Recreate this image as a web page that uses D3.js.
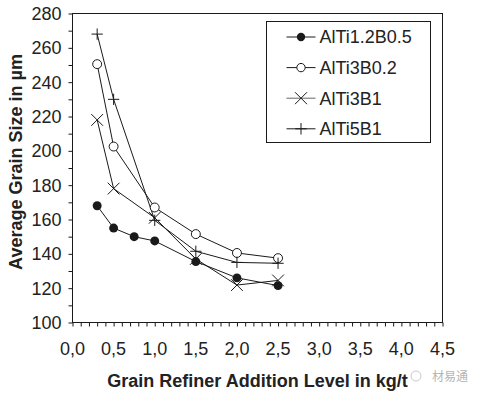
<!DOCTYPE html>
<html>
<head>
<meta charset="utf-8">
<script src="https://cdn.jsdelivr.net/npm/d3@7"></script>
<style>
  body { margin: 0; background: #fff; }
  svg { font-family: "Liberation Sans", Arial, sans-serif; }
</style>
</head>
<body>
<div id="chart"></div>
<script>
var svgWidth = 479;
var svgHeight = 397;

var margin = { top: 13.5, right: 36.5, bottom: 74.5, left: 72.5 };
var width = svgWidth - margin.left - margin.right;
var height = svgHeight - margin.top - margin.bottom;

// data
var seriesNames = ["AlTi1.2B0.5", "AlTi3B0.2", "AlTi3B1", "AlTi5B1"];
var markerTypes = ["filled", "open", "cross", "plus"];

var xLevels1 = [0.3, 0.5, 0.75, 1.0, 1.5, 2.0, 2.5];
var xLevels = [0.3, 0.5, 1.0, 1.5, 2.0, 2.5];

var alTi12B05 = [168, 155, 150, 147.5, 135.5, 126, 121.5];
var alTi3B02 = [250.5, 202.5, 167, 151.5, 140.5, 137.5];
var alTi3B1 = [218, 178, 161, 137, 121.8, 124.5];
var alTi5B1 = [268, 230, 159.5, 141.5, 135, 134.5];

var xTickLabels = ["0,0", "0,5", "1,0", "1,5", "2,0", "2,5", "3,0", "3,5", "4,0", "4,5"];
var yTickValues = [100, 120, 140, 160, 180, 200, 220, 240, 260, 280];

var seriesData = [
  xLevels1.map((x, i) => ({ x: x, y: alTi12B05[i] })),
  xLevels.map((x, i) => ({ x: x, y: alTi3B02[i] })),
  xLevels.map((x, i) => ({ x: x, y: alTi3B1[i] })),
  xLevels.map((x, i) => ({ x: x, y: alTi5B1[i] }))
];

var ink = "#1a1a1a";

var svg = d3.select("#chart")
  .append("svg")
  .attr("width", svgWidth)
  .attr("height", svgHeight);

var chartGroup = svg.append("g")
  .attr("transform", `translate(${margin.left}, ${margin.top})`);

var xScale = d3.scaleLinear().domain([0, 4.5]).range([0, width]);
var yScale = d3.scaleLinear().domain([100, 280]).range([height, 0]);

// frame
chartGroup.append("rect")
  .attr("width", width)
  .attr("height", height)
  .attr("fill", "none")
  .attr("stroke", ink)
  .attr("stroke-width", 1);

// x axis: small ticks every 0.1, labels every 0.5
var bottomAxis = d3.axisBottom(xScale)
  .tickValues(d3.range(0, 46).map(d => d / 10))
  .tickSize(4)
  .tickFormat("");

chartGroup.append("g")
  .attr("transform", `translate(0, ${height})`)
  .call(bottomAxis)
  .call(g => g.select(".domain").remove())
  .selectAll("line").attr("stroke", ink);

chartGroup.append("g")
  .selectAll("text")
  .data(xTickLabels)
  .enter()
  .append("text")
  .attr("x", (d, i) => xScale(i * 0.5))
  .attr("y", height + 32)
  .attr("text-anchor", "middle")
  .attr("font-size", "18px")
  .attr("fill", "#222")
  .text(d => d);

// y axis: ticks every 10, labels every 20
var leftAxis = d3.axisLeft(yScale)
  .tickValues(d3.range(100, 281, 10))
  .tickSize(4)
  .tickFormat("");

chartGroup.append("g")
  .call(leftAxis)
  .call(g => g.select(".domain").remove())
  .selectAll("line").attr("stroke", ink);

chartGroup.append("g")
  .selectAll("text")
  .data(yTickValues)
  .enter()
  .append("text")
  .attr("x", -11)
  .attr("y", d => yScale(d))
  .attr("dy", "0.36em")
  .attr("text-anchor", "end")
  .attr("font-size", "18px")
  .attr("fill", "#222")
  .text(d => d);

// axis titles
chartGroup.append("text")
  .attr("x", width / 2)
  .attr("y", height + 64)
  .attr("text-anchor", "middle")
  .attr("font-size", "18px")
  .attr("font-weight", "bold")
  .attr("fill", "#222")
  .text("Grain Refiner Addition Level in kg/t");

chartGroup.append("text")
  .attr("transform", "rotate(-90)")
  .attr("x", -(height / 2) + 6)
  .attr("y", -51)
  .attr("text-anchor", "middle")
  .attr("font-size", "18px")
  .attr("font-weight", "bold")
  .attr("fill", "#222")
  .text("Average Grain Size in \u00b5m");

// marker drawing
function drawMarker(g, type, size) {
  if (type === "filled") {
    g.append("circle").attr("r", size * 0.95).attr("fill", ink);
  } else if (type === "open") {
    g.append("circle").attr("r", size * 0.95).attr("fill", "#fff")
      .attr("stroke", ink).attr("stroke-width", 1);
  } else if (type === "cross") {
    var s = size * 1.25;
    g.append("path").attr("d", `M${-s},${-s}L${s},${s}M${-s},${s}L${s},${-s}`)
      .attr("stroke", ink).attr("stroke-width", 1);
  } else {
    var p = size * 1.2;
    g.append("path").attr("d", `M${-p},0L${p},0M0,${-p}L0,${p}`)
      .attr("stroke", ink).attr("stroke-width", 1);
  }
}

var line = d3.line()
  .x(d => xScale(d.x))
  .y(d => yScale(d.y));

// lines first, then markers
seriesData.forEach(function(data) {
  chartGroup.append("path")
    .datum(data)
    .attr("d", line)
    .attr("fill", "none")
    .attr("stroke", ink)
    .attr("stroke-width", 1);
});

seriesData.forEach(function(data, k) {
  chartGroup.append("g")
    .selectAll("g")
    .data(data)
    .enter()
    .append("g")
    .attr("transform", d => `translate(${xScale(d.x)}, ${yScale(d.y)})`)
    .each(function() { drawMarker(d3.select(this), markerTypes[k], 4.7); });
});

// legend
var legend = svg.append("g")
  .attr("transform", "translate(266.5, 21.5)");

legend.append("rect")
  .attr("width", 164)
  .attr("height", 121)
  .attr("fill", "#fff")
  .attr("stroke", ink)
  .attr("stroke-width", 1);

var legendItems = legend.selectAll(".item")
  .data(seriesNames)
  .enter()
  .append("g")
  .attr("class", "item")
  .attr("transform", (d, i) => `translate(0, ${15.5 + i * 30.6})`);

legendItems.append("line")
  .attr("x1", 20)
  .attr("x2", 49)
  .attr("stroke", (d, i) => i === 2 ? "#666" : ink)
  .attr("stroke-width", 1);

legendItems.each(function(d, i) {
  var m = d3.select(this).append("g").attr("transform", "translate(34.5, 0)");
  drawMarker(m, markerTypes[i], i < 2 ? 4.4 : 4.8);
});

legendItems.append("text")
  .attr("x", 53)
  .attr("dy", "0.36em")
  .attr("font-size", "18px")
  .attr("fill", "#222")
  .text(d => d);

// watermark
svg.append("text")
  .attr("x", 432)
  .attr("y", 381)
  .attr("font-family", "Noto Sans CJK SC")
  .attr("font-size", "12px")
  .attr("fill", "#b5b5b5")
  .text("材易通");

svg.append("circle")
  .attr("cx", 416)
  .attr("cy", 376)
  .attr("r", 5)
  .attr("fill", "none")
  .attr("stroke", "#c8c8c8")
  .attr("stroke-width", 1);
</script>
</body>
</html>
